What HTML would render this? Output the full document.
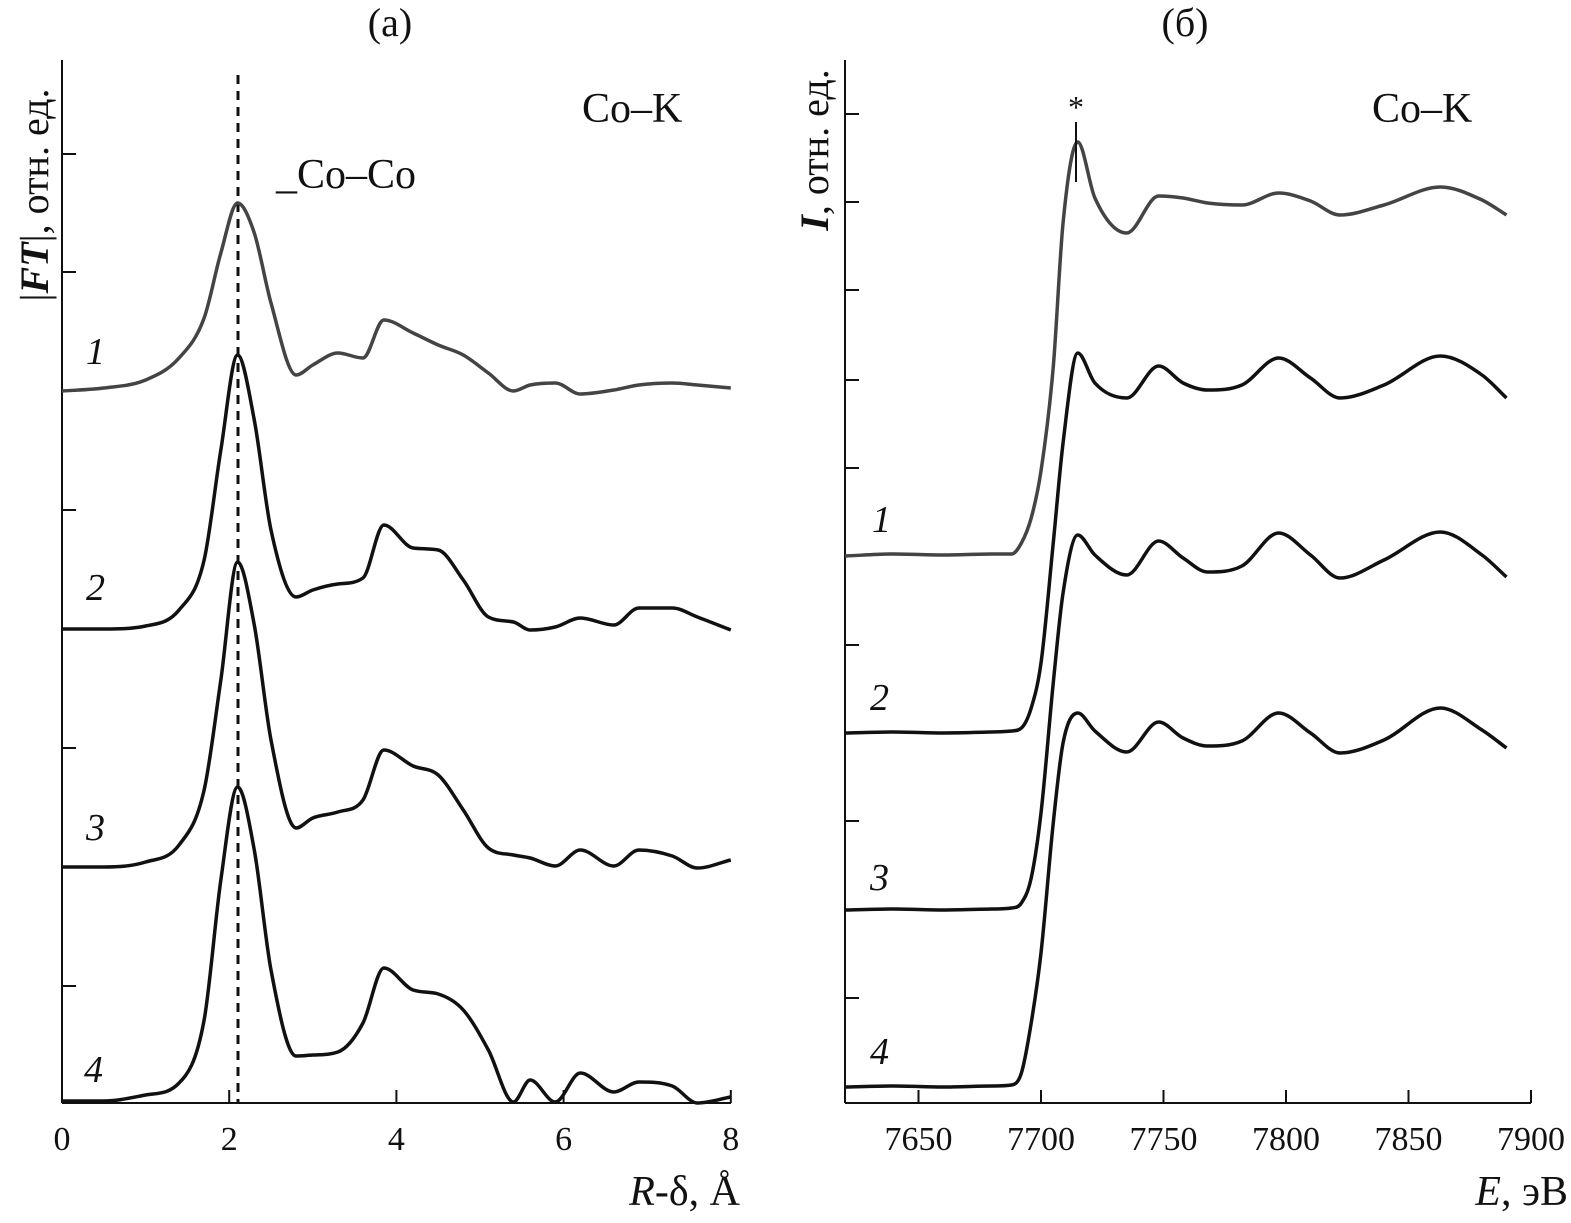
<!DOCTYPE html>
<html><head><meta charset="utf-8"><style>
body{margin:0;background:#fff}
svg text{font-family:"Liberation Serif",serif;fill:#111}
</style></head><body>
<svg id="chart" width="1571" height="1218" viewBox="0 0 1571 1218" xmlns="http://www.w3.org/2000/svg">
<g id="pa"></g>
<g id="pb"></g>
</svg>
<script>
// Panel (a): FT magnitude, R in Å; values in arbitrary units
const aR = [0,0.5,1.0,1.4,1.7,1.9,2.1,2.3,2.5,2.8,3.0,3.3,3.6,3.85,4.2,4.5,4.8,5.1,5.4,5.6,5.9,6.2,6.6,6.9,7.3,7.6,8.0];
const aS1 = [712,715,723,745,785,850,900,870,800,728,738,750,745,783,770,758,748,730,712,718,720,709,713,718,720,718,715];
const aS2 = [474,474,477,493,543,653,748,683,573,506,513,519,525,578,555,553,523,486,481,473,476,485,478,495,495,486,473];
const aS3 = [236,236,241,258,313,423,541,478,363,275,285,291,303,353,337,328,293,255,248,245,237,253,237,253,247,235,243];
const aS4 = [2,2,8,20,83,223,316,253,133,47,48,51,80,135,113,109,93,53,1,23,1,30,11,21,17,0,6];
const aTicksX = [0,2,4,6,8];
// Panel (b): XANES, E in eV
const bE = [7620,7640,7660,7680,7688,7692,7696,7700,7705,7709,7715,7722,7735,7748,7758,7768,7782,7797,7810,7822,7840,7863,7880,7890];
const bS1 = [547,549,548,549,549,560,585,632,736,880,961,905,870,907,905,900,898,910,902,888,898,916,903,888];
const bS2 = [370,371,370,371,372,375,395,440,560,660,750,720,705,737,720,713,718,745,725,705,718,747,728,705];
const bS3 = [193,194,193,194,195,200,225,290,420,510,568,548,528,562,545,531,537,570,548,525,543,571,548,526];
const bS4 = [16,17,16,17,18,30,80,150,280,360,390,372,351,381,365,357,362,390,370,350,363,395,373,355];
const bTicksX = [7650,7700,7750,7800,7850,7900];

const NS="http://www.w3.org/2000/svg";
function mk(tag,attrs,parent,txt){const e=document.createElementNS(NS,tag);for(const k in attrs)e.setAttribute(k,attrs[k]);if(txt!==undefined)e.textContent=txt;parent.appendChild(e);return e;}
const yScale=v=>1103-v;
const axScale=r=>62+r*83.6;
const bxScale=e=>845+(e-7620)*2.45;
// monotone cubic (Fritsch-Carlson)
function smooth(xs,ys){const n=xs.length,d=[],m=[];
 for(let i=0;i<n-1;i++)d.push((ys[i+1]-ys[i])/(xs[i+1]-xs[i]));
 m[0]=d[0];m[n-1]=d[n-2];
 for(let i=1;i<n-1;i++){m[i]=(d[i-1]*d[i]<=0)?0:(d[i-1]+d[i])/2;}
 for(let i=0;i<n-1;i++){if(d[i]===0){m[i]=0;m[i+1]=0;continue;}const a=m[i]/d[i],b=m[i+1]/d[i],s=a*a+b*b;if(s>9){const t=3/Math.sqrt(s);m[i]=t*a*d[i];m[i+1]=t*b*d[i];}}
 let p=`M${xs[0]},${ys[0]}`;
 for(let i=0;i<n-1;i++){const h=(xs[i+1]-xs[i])/3;p+=` C${xs[i]+h},${ys[i]+m[i]*h} ${xs[i+1]-h},${ys[i+1]-m[i+1]*h} ${xs[i+1]},${ys[i+1]}`;}
 return p;}

const pa=document.getElementById('pa'), pb=document.getElementById('pb');
let e;
e=mk('line',{x1:62,y1:60,x2:62,y2:1103,stroke:'#111','stroke-width':2},pa);

e=mk('line',{x1:62,y1:1103,x2:731,y2:1103,stroke:'#111','stroke-width':2},pa);

aTicksX.forEach(t=>{const x=axScale(t);
 e=mk('line',{x1:x,y1:1103,x2:x,y2:1090,stroke:'#111','stroke-width':2},pa);
 
 e=mk('text',{x:x,y:1150,'font-size':34,'text-anchor':'middle'},pa,String(t));
 });
[154,272,391,510,629,748,867,986].forEach(y=>{e=mk('line',{x1:62,y1:y,x2:76,y2:y,stroke:'#111','stroke-width':2},pa);
 });
e=mk('line',{x1:238,y1:75,x2:238,y2:1103,stroke:'#111','stroke-width':3,'stroke-dasharray':'9,7'},pa);

const axs=aR.map(axScale);
[[aS1,'#444','a-curve-1'],[aS2,'#111','a-curve-2'],[aS3,'#111','a-curve-3'],[aS4,'#111','a-curve-4']].forEach(([s,c,n])=>{
 e=mk('path',{d:smooth(axs,s.map(yScale)),fill:'none',stroke:c,'stroke-width':3.5,'stroke-linejoin':'round'},pa);
 });
e=mk('line',{x1:845,y1:60,x2:845,y2:1103,stroke:'#111','stroke-width':2},pb);

e=mk('line',{x1:845,y1:1103,x2:1531,y2:1103,stroke:'#111','stroke-width':2},pb);

bTicksX.forEach(t=>{const x=bxScale(t);
 e=mk('line',{x1:x,y1:1103,x2:x,y2:1090,stroke:'#111','stroke-width':2},pb);
 
 e=mk('text',{x:x,y:1150,'font-size':34,'text-anchor':'middle'},pb,String(t));
 });
[114,202,290,380,468,556,645,733,821,910,998].forEach(y=>{e=mk('line',{x1:845,y1:y,x2:859,y2:y,stroke:'#111','stroke-width':2},pb);
 });
const bxs=bE.map(bxScale);
[[bS1,'#444','b-curve-1'],[bS2,'#111','b-curve-2'],[bS3,'#111','b-curve-3'],[bS4,'#111','b-curve-4']].forEach(([s,c,n])=>{
 e=mk('path',{d:smooth(bxs,s.map(yScale)),fill:'none',stroke:c,'stroke-width':3.5,'stroke-linejoin':'round'},pb);
 });
e=mk('line',{x1:1076,y1:122,x2:1076,y2:182,stroke:'#111','stroke-width':2},pb);

</script>
<svg style="position:absolute;left:0;top:0" width="1571" height="1218">
<text x="390" y="36" font-size="40" text-anchor="middle">(a)</text>
<text x="1185" y="36" font-size="40" text-anchor="middle">(б)</text>
<text transform="translate(48,195) rotate(-90)" font-size="40" text-anchor="middle">|<tspan font-style="italic" font-weight="bold">FT</tspan>|, отн. ед.</text>
<text transform="translate(828,150) rotate(-90)" font-size="40" text-anchor="middle"><tspan font-style="italic" font-weight="bold">I</tspan>, отн. ед.</text>
<text x="582" y="122" font-size="42">Co–K</text>
<text x="1372" y="122" font-size="42">Co–K</text>
<text x="276" y="188" font-size="42">_Co–Co</text>
<text x="1076" y="118" font-size="32" text-anchor="middle">*</text>
<text x="740" y="1205" font-size="42" text-anchor="end"><tspan font-style="italic">R</tspan>-δ, Å</text>
<text x="1568" y="1205" font-size="42" text-anchor="end"><tspan font-style="italic">E</tspan>, эВ</text>
<g font-size="38" font-style="italic">
<text x="86" y="364">1</text>
<text x="86" y="600">2</text>
<text x="86" y="840">3</text>
<text x="84" y="1082">4</text>
<text x="872" y="532">1</text>
<text x="870" y="710">2</text>
<text x="870" y="890">3</text>
<text x="870" y="1064">4</text>
</g>
</svg>
</body></html>
